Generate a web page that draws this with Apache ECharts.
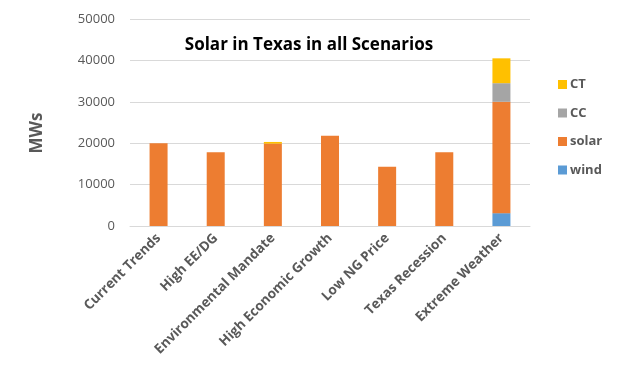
<!DOCTYPE html>
<html>
<head>
<meta charset="utf-8">
<script src="https://cdn.jsdelivr.net/npm/echarts@6/dist/echarts.min.js"></script>
<style>html,body{margin:0;padding:0;background:#fff}#c{width:620px;height:372px}</style>
</head>
<body>
<div id="c"></div>
<script>
const categories = ['Current Trends','High EE/DG','Environmental Mandate','High Economic Growth','Low NG Price','Texas Recession','Extreme Weather'];
const wind  = [0, 0, 0, 0, 0, 0, 3100];
const solar = [20000, 17800, 19900, 21800, 14300, 17800, 26900];
const cc    = [0, 0, 0, 0, 0, 0, 4500];
const ct    = [0, 0, 400, 0, 0, 0, 6000];
const yTicks = [0, 10000, 20000, 30000, 40000, 50000];

const font = "'Open Sans', 'Liberation Sans', sans-serif";
const chart = echarts.init(document.getElementById('c'));
function s(name, data, color) {
  return { name, type: 'bar', stack: 'total', data, barWidth: 18,
    itemStyle: { color }, emphasis: { disabled: true } };
}
chart.setOption({
  animation: false,
  title: { text: 'Solar in Texas in all Scenarios', left: 304, textAlign: 'center', top: 32,
    textStyle: { fontFamily: font, fontWeight: 'bold', fontSize: 17, color: '#000' } },
  legend: {
    orient: 'vertical', left: 553, top: 73, itemGap: 15.5, itemWidth: 9, itemHeight: 9,
    icon: 'rect', data: ['CT','CC','solar','wind'],
    textStyle: { fontFamily: font, fontSize: 13, fontWeight: 'bold', color: '#595959', padding: [0,0,0,-2] }
  },
  graphic: [{ type: 'text', x: 37, y: 133, rotation: Math.PI / 2,
    style: { text: 'MWs', fontFamily: font, fontSize: 17, fontWeight: 'bold', fill: '#595959',
      align: 'center', verticalAlign: 'middle' } }],
  grid: { left: 130, right: 90, top: 19, bottom: 146 },
  xAxis: {
    type: 'category', data: categories,
    axisLine: { lineStyle: { color: '#d9d9d9' } }, axisTick: { show: false },
    axisLabel: { rotate: 45, interval: 0, margin: 10, fontFamily: font, fontSize: 13.5, fontWeight: 'bold', color: '#595959' }
  },
  yAxis: {
    type: 'value', min: yTicks[0], max: yTicks[yTicks.length-1], interval: 10000,
    axisLine: { show: false }, axisTick: { show: false },
    splitLine: { lineStyle: { color: '#d9d9d9' } },
    axisLabel: { margin: 15, fontFamily: font, fontSize: 13, color: '#595959', formatter: v => String(v) }
  },
  series: [ s('wind', wind, '#5B9BD5'), s('solar', solar, '#ED7D31'), s('CC', cc, '#A5A5A5'), s('CT', ct, '#FFC000') ]
});
</script>
</body>
</html>
